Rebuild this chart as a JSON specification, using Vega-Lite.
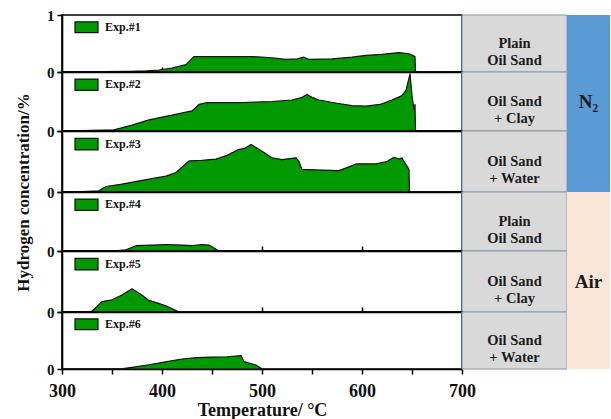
{
  "$schema": "https://vega.github.io/schema/vega-lite/v6.json",
  "background": "white",
  "padding": {"left": 13, "top": 7, "right": 0, "bottom": 0},
  "config": {
    "font": "Liberation Serif",
    "view": {"stroke": "black", "strokeWidth": 1.6},
    "axis": {"grid": false, "domainColor": "black", "tickColor": "black", "labelColor": "#111", "titleColor": "#111", "domainWidth": 1.6, "tickWidth": 1.5, "labelFontWeight": "bold", "titleFontWeight": "bold"},
    "axisY": {"tickSize": 5, "labelFontSize": 15, "labelPadding": 3}
  },
  "datasets": {
    "curves": [
      {"exp": "Exp.#1", "T": 300, "h": 0}, {"exp": "Exp.#1", "T": 340, "h": 0.005}, {"exp": "Exp.#1", "T": 367, "h": 0.01}, {"exp": "Exp.#1", "T": 385, "h": 0.02}, {"exp": "Exp.#1", "T": 397, "h": 0.035}, {"exp": "Exp.#1", "T": 410, "h": 0.07}, {"exp": "Exp.#1", "T": 424, "h": 0.13}, {"exp": "Exp.#1", "T": 432, "h": 0.27}, {"exp": "Exp.#1", "T": 450, "h": 0.27}, {"exp": "Exp.#1", "T": 470, "h": 0.27}, {"exp": "Exp.#1", "T": 490, "h": 0.27}, {"exp": "Exp.#1", "T": 510, "h": 0.25}, {"exp": "Exp.#1", "T": 524, "h": 0.22}, {"exp": "Exp.#1", "T": 535, "h": 0.23}, {"exp": "Exp.#1", "T": 542, "h": 0.26}, {"exp": "Exp.#1", "T": 547, "h": 0.22}, {"exp": "Exp.#1", "T": 570, "h": 0.23}, {"exp": "Exp.#1", "T": 590, "h": 0.26}, {"exp": "Exp.#1", "T": 604, "h": 0.29}, {"exp": "Exp.#1", "T": 620, "h": 0.31}, {"exp": "Exp.#1", "T": 637, "h": 0.34}, {"exp": "Exp.#1", "T": 647, "h": 0.32}, {"exp": "Exp.#1", "T": 653, "h": 0.27}, {"exp": "Exp.#1", "T": 653.5, "h": 0},
      {"exp": "Exp.#2", "T": 300, "h": 0}, {"exp": "Exp.#2", "T": 330, "h": 0.01}, {"exp": "Exp.#2", "T": 352, "h": 0.02}, {"exp": "Exp.#2", "T": 370, "h": 0.1}, {"exp": "Exp.#2", "T": 387, "h": 0.19}, {"exp": "Exp.#2", "T": 410, "h": 0.27}, {"exp": "Exp.#2", "T": 430, "h": 0.34}, {"exp": "Exp.#2", "T": 437, "h": 0.45}, {"exp": "Exp.#2", "T": 445, "h": 0.48}, {"exp": "Exp.#2", "T": 480, "h": 0.48}, {"exp": "Exp.#2", "T": 510, "h": 0.5}, {"exp": "Exp.#2", "T": 530, "h": 0.525}, {"exp": "Exp.#2", "T": 540, "h": 0.57}, {"exp": "Exp.#2", "T": 545, "h": 0.62}, {"exp": "Exp.#2", "T": 550, "h": 0.57}, {"exp": "Exp.#2", "T": 557, "h": 0.525}, {"exp": "Exp.#2", "T": 575, "h": 0.47}, {"exp": "Exp.#2", "T": 590, "h": 0.43}, {"exp": "Exp.#2", "T": 604, "h": 0.42}, {"exp": "Exp.#2", "T": 618, "h": 0.45}, {"exp": "Exp.#2", "T": 630, "h": 0.525}, {"exp": "Exp.#2", "T": 640, "h": 0.6}, {"exp": "Exp.#2", "T": 644, "h": 0.69}, {"exp": "Exp.#2", "T": 648, "h": 0.97}, {"exp": "Exp.#2", "T": 650, "h": 0.6}, {"exp": "Exp.#2", "T": 652, "h": 0.36}, {"exp": "Exp.#2", "T": 653, "h": 0.45}, {"exp": "Exp.#2", "T": 653.5, "h": 0},
      {"exp": "Exp.#3", "T": 300, "h": 0}, {"exp": "Exp.#3", "T": 320, "h": 0.005}, {"exp": "Exp.#3", "T": 337, "h": 0.02}, {"exp": "Exp.#3", "T": 344, "h": 0.09}, {"exp": "Exp.#3", "T": 360, "h": 0.13}, {"exp": "Exp.#3", "T": 380, "h": 0.19}, {"exp": "Exp.#3", "T": 404, "h": 0.26}, {"exp": "Exp.#3", "T": 414, "h": 0.32}, {"exp": "Exp.#3", "T": 427, "h": 0.51}, {"exp": "Exp.#3", "T": 440, "h": 0.52}, {"exp": "Exp.#3", "T": 454, "h": 0.54}, {"exp": "Exp.#3", "T": 465, "h": 0.6}, {"exp": "Exp.#3", "T": 477, "h": 0.7}, {"exp": "Exp.#3", "T": 482, "h": 0.71}, {"exp": "Exp.#3", "T": 489, "h": 0.78}, {"exp": "Exp.#3", "T": 497, "h": 0.7}, {"exp": "Exp.#3", "T": 510, "h": 0.56}, {"exp": "Exp.#3", "T": 520, "h": 0.53}, {"exp": "Exp.#3", "T": 534, "h": 0.56}, {"exp": "Exp.#3", "T": 537, "h": 0.5}, {"exp": "Exp.#3", "T": 540, "h": 0.37}, {"exp": "Exp.#3", "T": 560, "h": 0.36}, {"exp": "Exp.#3", "T": 577, "h": 0.35}, {"exp": "Exp.#3", "T": 585, "h": 0.4}, {"exp": "Exp.#3", "T": 594, "h": 0.46}, {"exp": "Exp.#3", "T": 614, "h": 0.46}, {"exp": "Exp.#3", "T": 625, "h": 0.5}, {"exp": "Exp.#3", "T": 632, "h": 0.57}, {"exp": "Exp.#3", "T": 637, "h": 0.54}, {"exp": "Exp.#3", "T": 640, "h": 0.56}, {"exp": "Exp.#3", "T": 642, "h": 0.5}, {"exp": "Exp.#3", "T": 647, "h": 0.37}, {"exp": "Exp.#3", "T": 647.5, "h": 0},
      {"exp": "Exp.#4", "T": 300, "h": 0}, {"exp": "Exp.#4", "T": 350, "h": 0}, {"exp": "Exp.#4", "T": 364, "h": 0.02}, {"exp": "Exp.#4", "T": 374, "h": 0.09}, {"exp": "Exp.#4", "T": 390, "h": 0.1}, {"exp": "Exp.#4", "T": 404, "h": 0.11}, {"exp": "Exp.#4", "T": 420, "h": 0.1}, {"exp": "Exp.#4", "T": 430, "h": 0.09}, {"exp": "Exp.#4", "T": 440, "h": 0.11}, {"exp": "Exp.#4", "T": 447, "h": 0.1}, {"exp": "Exp.#4", "T": 457, "h": 0},
      {"exp": "Exp.#5", "T": 300, "h": 0}, {"exp": "Exp.#5", "T": 329, "h": 0}, {"exp": "Exp.#5", "T": 335, "h": 0.09}, {"exp": "Exp.#5", "T": 340, "h": 0.17}, {"exp": "Exp.#5", "T": 350, "h": 0.2}, {"exp": "Exp.#5", "T": 360, "h": 0.28}, {"exp": "Exp.#5", "T": 370, "h": 0.38}, {"exp": "Exp.#5", "T": 378, "h": 0.3}, {"exp": "Exp.#5", "T": 387, "h": 0.19}, {"exp": "Exp.#5", "T": 395, "h": 0.15}, {"exp": "Exp.#5", "T": 404, "h": 0.1}, {"exp": "Exp.#5", "T": 417, "h": 0},
      {"exp": "Exp.#6", "T": 300, "h": 0}, {"exp": "Exp.#6", "T": 357, "h": 0}, {"exp": "Exp.#6", "T": 370, "h": 0.03}, {"exp": "Exp.#6", "T": 387, "h": 0.075}, {"exp": "Exp.#6", "T": 405, "h": 0.13}, {"exp": "Exp.#6", "T": 420, "h": 0.175}, {"exp": "Exp.#6", "T": 435, "h": 0.2}, {"exp": "Exp.#6", "T": 450, "h": 0.21}, {"exp": "Exp.#6", "T": 465, "h": 0.215}, {"exp": "Exp.#6", "T": 479, "h": 0.235}, {"exp": "Exp.#6", "T": 482, "h": 0.13}, {"exp": "Exp.#6", "T": 494, "h": 0.07}, {"exp": "Exp.#6", "T": 500, "h": 0}
    ],
    "table": [
      {"exp": "Exp.#1", "cond": "Plain\nOil Sand", "atm": "N₂"},
      {"exp": "Exp.#2", "cond": "Oil Sand\n+ Clay", "atm": "N₂"},
      {"exp": "Exp.#3", "cond": "Oil Sand\n+ Water", "atm": "N₂"},
      {"exp": "Exp.#4", "cond": "Plain\nOil Sand", "atm": "Air"},
      {"exp": "Exp.#5", "cond": "Oil Sand\n+ Clay", "atm": "Air"},
      {"exp": "Exp.#6", "cond": "Oil Sand\n+ Water", "atm": "Air"}
    ]
  },
  "columns": 3,
  "spacing": 0,
  "bounds": "flush",
  "concat": [
    {
      "width": 400, "height": 57,
      "layer": [
        {"data": {"name": "curves"}, "transform": [{"filter": "datum.exp == 'Exp.#1'"}],
         "mark": {"type": "area", "fill": "#009a00", "stroke": "#111", "strokeWidth": 1.2, "strokeJoin": "round"},
         "encoding": {
           "x": {"field": "T", "type": "quantitative", "scale": {"domain": [300, 700], "nice": false}, "axis": {"values": [400, 500, 600], "labels": false, "title": null, "tickSize": -5}},
           "y": {"field": "h", "type": "quantitative", "scale": {"domain": [0, 1], "nice": false}, "axis": {"values": [0, 0.5, 1], "labelExpr": "datum.value == 1 ? '1' : (datum.value == 0 ? '0' : '')", "title": null}}}},
        {"data": {"name": "table"}, "transform": [{"filter": "datum.exp == 'Exp.#1'"}],
         "mark": {"type": "rect", "fill": "#009a00", "stroke": "#111", "strokeWidth": 1.2},
         "encoding": {"x": {"datum": 313, "type": "quantitative"}, "x2": {"datum": 336}, "y": {"datum": 0.69, "type": "quantitative"}, "y2": {"datum": 0.88}}},
        {"data": {"name": "table"}, "transform": [{"filter": "datum.exp == 'Exp.#1'"}],
         "mark": {"type": "text", "align": "left", "baseline": "middle", "fontWeight": "bold", "fontSize": 12, "color": "#111"},
         "encoding": {"x": {"datum": 343, "type": "quantitative"}, "y": {"datum": 0.79, "type": "quantitative"}, "text": {"field": "exp"}}}
      ]
    },
    {
      "width": 105, "height": 57, "view": {"stroke": null},
      "data": {"name": "table"}, "transform": [{"filter": "datum.exp == 'Exp.#1'"}],
      "layer": [
        {"mark": {"type": "rect", "fill": "#d9d9d9", "stroke": "#8a98ad", "strokeWidth": 1}, "encoding": {"y": {"field": "exp", "type": "nominal", "axis": null, "scale": {"paddingInner": 0, "paddingOuter": 0}}}},
        {"mark": {"type": "text", "fontWeight": "bold", "fontSize": 14.5, "lineBreak": "\n", "lineHeight": 17, "color": "#1a1a1a", "baseline": "middle"}, "encoding": {"y": {"field": "exp", "type": "nominal", "axis": null}, "text": {"field": "cond"}}}
      ]
    },
    {
      "width": 43, "height": 57, "view": {"stroke": null},
      "data": {"name": "table"}, "transform": [{"filter": "datum.exp == 'Exp.#1'"}],
      "mark": {"type": "rect", "strokeWidth": 0},
      "encoding": {"fill": {"field": "atm", "type": "nominal", "scale": {"domain": ["N₂", "Air"], "range": ["#5b9bd5", "#fbe5d6"]}, "legend": null}, "y": {"field": "exp", "type": "nominal", "axis": null, "scale": {"paddingInner": 0, "paddingOuter": 0}}}
    },
    {
      "width": 400, "height": 59,
      "layer": [
        {"data": {"name": "curves"}, "transform": [{"filter": "datum.exp == 'Exp.#2'"}],
         "mark": {"type": "area", "fill": "#009a00", "stroke": "#111", "strokeWidth": 1.2, "strokeJoin": "round"},
         "encoding": {
           "x": {"field": "T", "type": "quantitative", "scale": {"domain": [300, 700], "nice": false}, "axis": {"values": [400, 500, 600], "labels": false, "title": null, "tickSize": -5}},
           "y": {"field": "h", "type": "quantitative", "scale": {"domain": [0, 1], "nice": false}, "axis": {"values": [0, 0.5, 1], "labelExpr": "datum.value == 0 ? '0' : ''", "title": null}}}},
        {"data": {"name": "table"}, "transform": [{"filter": "datum.exp == 'Exp.#2'"}],
         "mark": {"type": "rect", "fill": "#009a00", "stroke": "#111", "strokeWidth": 1.2},
         "encoding": {"x": {"datum": 313, "type": "quantitative"}, "x2": {"datum": 336}, "y": {"datum": 0.69, "type": "quantitative"}, "y2": {"datum": 0.88}}},
        {"data": {"name": "table"}, "transform": [{"filter": "datum.exp == 'Exp.#2'"}],
         "mark": {"type": "text", "align": "left", "baseline": "middle", "fontWeight": "bold", "fontSize": 12, "color": "#111"},
         "encoding": {"x": {"datum": 343, "type": "quantitative"}, "y": {"datum": 0.79, "type": "quantitative"}, "text": {"field": "exp"}}}
      ]
    },
    {
      "width": 105, "height": 59, "view": {"stroke": null},
      "data": {"name": "table"}, "transform": [{"filter": "datum.exp == 'Exp.#2'"}],
      "layer": [
        {"mark": {"type": "rect", "fill": "#d9d9d9", "stroke": "#8a98ad", "strokeWidth": 1}, "encoding": {"y": {"field": "exp", "type": "nominal", "axis": null, "scale": {"paddingInner": 0, "paddingOuter": 0}}}},
        {"mark": {"type": "text", "fontWeight": "bold", "fontSize": 14.5, "lineBreak": "\n", "lineHeight": 17, "color": "#1a1a1a", "baseline": "middle"}, "encoding": {"y": {"field": "exp", "type": "nominal", "axis": null}, "text": {"field": "cond"}}}
      ]
    },
    {
      "width": 43, "height": 59, "view": {"stroke": null},
      "data": {"name": "table"}, "transform": [{"filter": "datum.exp == 'Exp.#2'"}],
      "layer": [
        {"mark": {"type": "rect", "strokeWidth": 0},
         "encoding": {"fill": {"field": "atm", "type": "nominal", "scale": {"domain": ["N₂", "Air"], "range": ["#5b9bd5", "#fbe5d6"]}, "legend": null}, "y": {"field": "exp", "type": "nominal", "axis": null, "scale": {"paddingInner": 0, "paddingOuter": 0}}}},
        {"mark": {"type": "text", "fontWeight": "bold", "fontSize": 19, "color": "#1a1a1a", "baseline": "middle"}, "encoding": {"y": {"field": "exp", "type": "nominal", "axis": null}, "text": {"field": "atm"}}}
      ]
    },
    {
      "width": 400, "height": 61,
      "layer": [
        {"data": {"name": "curves"}, "transform": [{"filter": "datum.exp == 'Exp.#3'"}],
         "mark": {"type": "area", "fill": "#009a00", "stroke": "#111", "strokeWidth": 1.2, "strokeJoin": "round"},
         "encoding": {
           "x": {"field": "T", "type": "quantitative", "scale": {"domain": [300, 700], "nice": false}, "axis": {"values": [400, 500, 600], "labels": false, "title": null, "tickSize": -5}},
           "y": {"field": "h", "type": "quantitative", "scale": {"domain": [0, 1], "nice": false}, "axis": {"values": [0, 0.5, 1], "labelExpr": "datum.value == 0 ? '0' : ''", "title": "Hydrogen concentration/%", "titleFontSize": 17, "titleAnchor": "start", "titleAlign": "center", "titlePadding": 14}}}},
        {"data": {"name": "table"}, "transform": [{"filter": "datum.exp == 'Exp.#3'"}],
         "mark": {"type": "rect", "fill": "#009a00", "stroke": "#111", "strokeWidth": 1.2},
         "encoding": {"x": {"datum": 313, "type": "quantitative"}, "x2": {"datum": 336}, "y": {"datum": 0.69, "type": "quantitative"}, "y2": {"datum": 0.88}}},
        {"data": {"name": "table"}, "transform": [{"filter": "datum.exp == 'Exp.#3'"}],
         "mark": {"type": "text", "align": "left", "baseline": "middle", "fontWeight": "bold", "fontSize": 12, "color": "#111"},
         "encoding": {"x": {"datum": 343, "type": "quantitative"}, "y": {"datum": 0.79, "type": "quantitative"}, "text": {"field": "exp"}}}
      ]
    },
    {
      "width": 105, "height": 61, "view": {"stroke": null},
      "data": {"name": "table"}, "transform": [{"filter": "datum.exp == 'Exp.#3'"}],
      "layer": [
        {"mark": {"type": "rect", "fill": "#d9d9d9", "stroke": "#8a98ad", "strokeWidth": 1}, "encoding": {"y": {"field": "exp", "type": "nominal", "axis": null, "scale": {"paddingInner": 0, "paddingOuter": 0}}}},
        {"mark": {"type": "text", "fontWeight": "bold", "fontSize": 14.5, "lineBreak": "\n", "lineHeight": 17, "color": "#1a1a1a", "baseline": "middle"}, "encoding": {"y": {"field": "exp", "type": "nominal", "axis": null}, "text": {"field": "cond"}}}
      ]
    },
    {
      "width": 43, "height": 61, "view": {"stroke": null},
      "data": {"name": "table"}, "transform": [{"filter": "datum.exp == 'Exp.#3'"}],
      "mark": {"type": "rect", "strokeWidth": 0},
      "encoding": {"fill": {"field": "atm", "type": "nominal", "scale": {"domain": ["N₂", "Air"], "range": ["#5b9bd5", "#fbe5d6"]}, "legend": null}, "y": {"field": "exp", "type": "nominal", "axis": null, "scale": {"paddingInner": 0, "paddingOuter": 0}}}
    },
    {
      "width": 400, "height": 59,
      "layer": [
        {"data": {"name": "curves"}, "transform": [{"filter": "datum.exp == 'Exp.#4'"}],
         "mark": {"type": "area", "fill": "#009a00", "stroke": "#111", "strokeWidth": 1.2, "strokeJoin": "round"},
         "encoding": {
           "x": {"field": "T", "type": "quantitative", "scale": {"domain": [300, 700], "nice": false}, "axis": {"values": [400, 500, 600], "labels": false, "title": null, "tickSize": -5}},
           "y": {"field": "h", "type": "quantitative", "scale": {"domain": [0, 1], "nice": false}, "axis": {"values": [0, 0.5, 1], "labelExpr": "datum.value == 0 ? '0' : ''", "title": null}}}},
        {"data": {"name": "table"}, "transform": [{"filter": "datum.exp == 'Exp.#4'"}],
         "mark": {"type": "rect", "fill": "#009a00", "stroke": "#111", "strokeWidth": 1.2},
         "encoding": {"x": {"datum": 313, "type": "quantitative"}, "x2": {"datum": 336}, "y": {"datum": 0.69, "type": "quantitative"}, "y2": {"datum": 0.88}}},
        {"data": {"name": "table"}, "transform": [{"filter": "datum.exp == 'Exp.#4'"}],
         "mark": {"type": "text", "align": "left", "baseline": "middle", "fontWeight": "bold", "fontSize": 12, "color": "#111"},
         "encoding": {"x": {"datum": 343, "type": "quantitative"}, "y": {"datum": 0.79, "type": "quantitative"}, "text": {"field": "exp"}}}
      ]
    },
    {
      "width": 105, "height": 59, "view": {"stroke": null},
      "data": {"name": "table"}, "transform": [{"filter": "datum.exp == 'Exp.#4'"}],
      "layer": [
        {"mark": {"type": "rect", "fill": "#d9d9d9", "stroke": "#8a98ad", "strokeWidth": 1}, "encoding": {"y": {"field": "exp", "type": "nominal", "axis": null, "scale": {"paddingInner": 0, "paddingOuter": 0}}}},
        {"mark": {"type": "text", "fontWeight": "bold", "fontSize": 14.5, "lineBreak": "\n", "lineHeight": 17, "color": "#1a1a1a", "baseline": "middle"}, "encoding": {"y": {"field": "exp", "type": "nominal", "axis": null}, "text": {"field": "cond"}}}
      ]
    },
    {
      "width": 43, "height": 59, "view": {"stroke": null},
      "data": {"name": "table"}, "transform": [{"filter": "datum.exp == 'Exp.#4'"}],
      "mark": {"type": "rect", "strokeWidth": 0},
      "encoding": {"fill": {"field": "atm", "type": "nominal", "scale": {"domain": ["N₂", "Air"], "range": ["#5b9bd5", "#fbe5d6"]}, "legend": null}, "y": {"field": "exp", "type": "nominal", "axis": null, "scale": {"paddingInner": 0, "paddingOuter": 0}}}
    },
    {
      "width": 400, "height": 61,
      "layer": [
        {"data": {"name": "curves"}, "transform": [{"filter": "datum.exp == 'Exp.#5'"}],
         "mark": {"type": "area", "fill": "#009a00", "stroke": "#111", "strokeWidth": 1.2, "strokeJoin": "round"},
         "encoding": {
           "x": {"field": "T", "type": "quantitative", "scale": {"domain": [300, 700], "nice": false}, "axis": {"values": [400, 500, 600], "labels": false, "title": null, "tickSize": -5}},
           "y": {"field": "h", "type": "quantitative", "scale": {"domain": [0, 1], "nice": false}, "axis": {"values": [0, 0.5, 1], "labelExpr": "datum.value == 0 ? '0' : ''", "title": null}}}},
        {"data": {"name": "table"}, "transform": [{"filter": "datum.exp == 'Exp.#5'"}],
         "mark": {"type": "rect", "fill": "#009a00", "stroke": "#111", "strokeWidth": 1.2},
         "encoding": {"x": {"datum": 313, "type": "quantitative"}, "x2": {"datum": 336}, "y": {"datum": 0.69, "type": "quantitative"}, "y2": {"datum": 0.88}}},
        {"data": {"name": "table"}, "transform": [{"filter": "datum.exp == 'Exp.#5'"}],
         "mark": {"type": "text", "align": "left", "baseline": "middle", "fontWeight": "bold", "fontSize": 12, "color": "#111"},
         "encoding": {"x": {"datum": 343, "type": "quantitative"}, "y": {"datum": 0.79, "type": "quantitative"}, "text": {"field": "exp"}}}
      ]
    },
    {
      "width": 105, "height": 61, "view": {"stroke": null},
      "data": {"name": "table"}, "transform": [{"filter": "datum.exp == 'Exp.#5'"}],
      "layer": [
        {"mark": {"type": "rect", "fill": "#d9d9d9", "stroke": "#8a98ad", "strokeWidth": 1}, "encoding": {"y": {"field": "exp", "type": "nominal", "axis": null, "scale": {"paddingInner": 0, "paddingOuter": 0}}}},
        {"mark": {"type": "text", "fontWeight": "bold", "fontSize": 14.5, "lineBreak": "\n", "lineHeight": 17, "color": "#1a1a1a", "baseline": "middle"}, "encoding": {"y": {"field": "exp", "type": "nominal", "axis": null}, "text": {"field": "cond"}}}
      ]
    },
    {
      "width": 43, "height": 61, "view": {"stroke": null},
      "data": {"name": "table"}, "transform": [{"filter": "datum.exp == 'Exp.#5'"}],
      "layer": [
        {"mark": {"type": "rect", "strokeWidth": 0},
         "encoding": {"fill": {"field": "atm", "type": "nominal", "scale": {"domain": ["N₂", "Air"], "range": ["#5b9bd5", "#fbe5d6"]}, "legend": null}, "y": {"field": "exp", "type": "nominal", "axis": null, "scale": {"paddingInner": 0, "paddingOuter": 0}}}},
        {"mark": {"type": "text", "fontWeight": "bold", "fontSize": 19, "color": "#1a1a1a", "baseline": "middle"}, "encoding": {"y": {"field": "exp", "type": "nominal", "axis": null}, "text": {"field": "atm"}}}
      ]
    },
    {
      "width": 400, "height": 57,
      "layer": [
        {"data": {"name": "curves"}, "transform": [{"filter": "datum.exp == 'Exp.#6'"}],
         "mark": {"type": "area", "fill": "#009a00", "stroke": "#111", "strokeWidth": 1.2, "strokeJoin": "round"},
         "encoding": {
           "x": {"field": "T", "type": "quantitative", "scale": {"domain": [300, 700], "nice": false}, "axis": {"values": [300, 350, 400, 450, 500, 550, 600, 650, 700], "labelExpr": "datum.value % 100 == 0 ? datum.label : ''", "tickSize": 5, "labelFontSize": 18, "labelPadding": 8, "labelFlush": false, "title": "Temperature/ °C", "titleFontSize": 18, "titlePadding": 1}},
           "y": {"field": "h", "type": "quantitative", "scale": {"domain": [0, 1], "nice": false}, "axis": {"values": [0, 0.5, 1], "labelExpr": "datum.value == 0 ? '0' : ''", "title": null}}}},
        {"data": {"name": "table"}, "transform": [{"filter": "datum.exp == 'Exp.#6'"}],
         "mark": {"type": "rect", "fill": "#009a00", "stroke": "#111", "strokeWidth": 1.2},
         "encoding": {"x": {"datum": 313, "type": "quantitative"}, "x2": {"datum": 336}, "y": {"datum": 0.69, "type": "quantitative"}, "y2": {"datum": 0.88}}},
        {"data": {"name": "table"}, "transform": [{"filter": "datum.exp == 'Exp.#6'"}],
         "mark": {"type": "text", "align": "left", "baseline": "middle", "fontWeight": "bold", "fontSize": 12, "color": "#111"},
         "encoding": {"x": {"datum": 343, "type": "quantitative"}, "y": {"datum": 0.79, "type": "quantitative"}, "text": {"field": "exp"}}}
      ]
    },
    {
      "width": 105, "height": 57, "view": {"stroke": null},
      "data": {"name": "table"}, "transform": [{"filter": "datum.exp == 'Exp.#6'"}],
      "layer": [
        {"mark": {"type": "rect", "fill": "#d9d9d9", "stroke": "#8a98ad", "strokeWidth": 1}, "encoding": {"y": {"field": "exp", "type": "nominal", "axis": null, "scale": {"paddingInner": 0, "paddingOuter": 0}}}},
        {"mark": {"type": "text", "fontWeight": "bold", "fontSize": 14.5, "lineBreak": "\n", "lineHeight": 17, "color": "#1a1a1a", "baseline": "middle"}, "encoding": {"y": {"field": "exp", "type": "nominal", "axis": null}, "text": {"field": "cond"}}}
      ]
    },
    {
      "width": 43, "height": 57, "view": {"stroke": null},
      "data": {"name": "table"}, "transform": [{"filter": "datum.exp == 'Exp.#6'"}],
      "mark": {"type": "rect", "strokeWidth": 0},
      "encoding": {"fill": {"field": "atm", "type": "nominal", "scale": {"domain": ["N₂", "Air"], "range": ["#5b9bd5", "#fbe5d6"]}, "legend": null}, "y": {"field": "exp", "type": "nominal", "axis": null, "scale": {"paddingInner": 0, "paddingOuter": 0}}}
    }
  ]
}
